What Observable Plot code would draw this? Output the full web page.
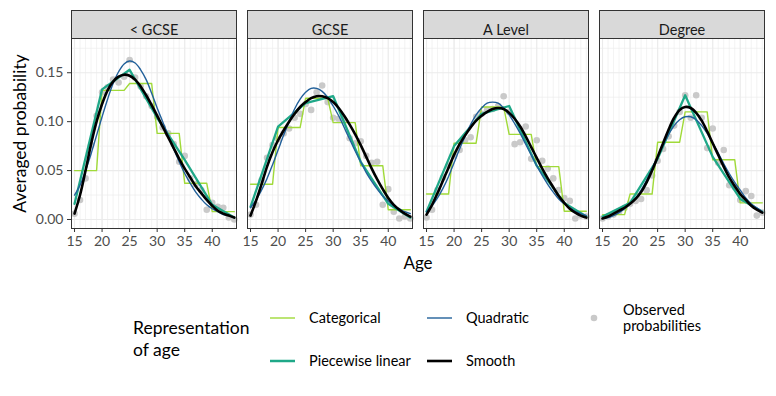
<!DOCTYPE html>
<html><head><meta charset="utf-8">
<script src="https://cdn.jsdelivr.net/npm/d3@7"></script>
<script src="https://cdn.jsdelivr.net/npm/@observablehq/plot@0.6"></script>
<style>
body{margin:0;background:#fff;font-family:Lato,sans-serif;}
#wrap{position:relative;width:776px;height:396px;overflow:hidden;background:#fff}
#legend{position:absolute;left:0;top:0}
</style></head><body><div id="wrap"><div id="chart"></div><svg id="legend" width="776" height="396"></svg></div>
<script>
// ---- data ----
const edus = ["< GCSE", "GCSE", "A Level", "Degree"];
const ages = [15,16,17,18,19,20,21,22,23,24,25,26,27,28,29,30,31,32,33,34,35,36,37,38,39,40,41,42,43,44];

const obsLtGcse = [0.006,0.020,0.042,0.076,0.106,0.130,0.135,0.143,0.140,0.146,0.163,0.145,0.136,0.126,0.116,0.105,0.094,0.088,0.077,0.059,0.065,0.042,0.036,0.030,0.010,0.017,0.013,0.012,0.002,0.000];
const obsGcse   = [0.005,0.015,0.040,0.063,0.076,0.082,0.088,0.093,0.104,0.108,0.118,0.112,0.130,0.137,0.120,0.104,0.103,0.102,0.083,0.078,0.080,0.065,0.058,0.059,0.015,0.031,0.008,0.001,0.003,0.001];
const obsALevel = [0.002,0.010,0.030,0.043,0.055,0.065,0.071,0.081,0.084,0.105,0.108,0.112,0.113,0.116,0.126,0.110,0.077,0.079,0.095,0.062,0.081,0.060,0.052,0.042,0.030,0.022,0.019,0.001,0.004,0.003];
const obsDegree = [0.001,0.003,0.005,0.008,0.012,0.016,0.019,0.021,0.030,0.045,0.060,0.072,0.085,0.096,0.110,0.127,0.104,0.127,0.104,0.073,0.093,0.058,0.071,0.035,0.033,0.020,0.029,0.024,0.004,0.007];

// categorical: age groups
const catStart = [15,20,25,30,35,40];
const catEnd   = [19,24,29,34,39,44];
const catLtGcse = [0.050,0.132,0.139,0.088,0.037,0.008];
const catGcse   = [0.036,0.094,0.124,0.099,0.055,0.010];
const catALevel = [0.026,0.078,0.115,0.087,0.054,0.0085];
const catDegree = [0.005,0.026,0.079,0.110,0.061,0.017];

// piecewise linear: knots
const knots = [15,20,25,30,35,40,44];
const pwLtGcse = [0.016,0.133,0.153,0.104,0.061,0.015,0.002];
const pwGcse   = [0.013,0.095,0.119,0.126,0.059,0.016,0.002];
const pwALevel = [0.008,0.075,0.108,0.116,0.055,0.017,0.003];
const pwDegree = [0.003,0.017,0.062,0.127,0.064,0.021,0.008];

// quadratic
const quadLtGcse = [0.025,0.035,0.050,0.067,0.086,0.105,0.123,0.139,0.151,0.159,0.162,0.160,0.153,0.143,0.129,0.114,0.100,0.086,0.072,0.059,0.047,0.037,0.028,0.021,0.015,0.011,0.008,0.005,0.004,0.002];
const quadGcse   = [0.012,0.020,0.030,0.042,0.056,0.071,0.086,0.100,0.113,0.123,0.130,0.134,0.134,0.131,0.125,0.116,0.106,0.094,0.082,0.070,0.059,0.048,0.039,0.031,0.024,0.019,0.014,0.011,0.008,0.006];
const quadALevel = [0.008,0.014,0.022,0.032,0.044,0.058,0.072,0.085,0.097,0.107,0.114,0.119,0.120,0.119,0.114,0.107,0.098,0.088,0.077,0.066,0.055,0.045,0.036,0.028,0.021,0.016,0.012,0.008,0.006,0.004];
const quadDegree = [0.001,0.002,0.004,0.007,0.011,0.016,0.022,0.030,0.040,0.052,0.064,0.076,0.087,0.096,0.102,0.105,0.105,0.102,0.096,0.088,0.078,0.068,0.057,0.047,0.038,0.030,0.022,0.016,0.012,0.008];

// smooth
const smLtGcse = [0.006,0.025,0.050,0.077,0.100,0.118,0.132,0.141,0.146,0.148,0.147,0.143,0.136,0.127,0.117,0.106,0.095,0.084,0.073,0.062,0.052,0.043,0.034,0.027,0.020,0.014,0.009,0.006,0.004,0.002];
const smGcse   = [0.004,0.019,0.036,0.054,0.069,0.081,0.091,0.100,0.108,0.115,0.120,0.124,0.126,0.126,0.124,0.120,0.114,0.106,0.097,0.087,0.076,0.064,0.052,0.041,0.031,0.022,0.015,0.010,0.006,0.003];
const smALevel = [0.005,0.015,0.027,0.040,0.053,0.066,0.077,0.086,0.094,0.101,0.106,0.110,0.113,0.114,0.113,0.109,0.103,0.095,0.085,0.074,0.063,0.052,0.042,0.033,0.024,0.017,0.011,0.007,0.004,0.002];
const smDegree = [0.001,0.003,0.006,0.009,0.012,0.016,0.021,0.028,0.038,0.050,0.064,0.078,0.092,0.104,0.112,0.115,0.114,0.109,0.101,0.090,0.078,0.066,0.054,0.043,0.034,0.026,0.020,0.014,0.010,0.007];

const xTicks = [15,20,25,30,35,40];
const xMinor = ages;
const yTicks = [0, 0.05, 0.10, 0.15];
const yMinor = [0.025, 0.075, 0.125, 0.175];

const seriesNames = ["Categorical", "Piecewise linear", "Quadratic", "Smooth"];
const colors = {"Categorical": "#a0da39", "Piecewise linear": "#1fa888", "Quadratic": "#21609a", "Smooth": "#000000"};

// ---- tables ----
const obs = [obsLtGcse, obsGcse, obsALevel, obsDegree];
const cat = [catLtGcse, catGcse, catALevel, catDegree];
const pw = [pwLtGcse, pwGcse, pwALevel, pwDegree];
const quad = [quadLtGcse, quadGcse, quadALevel, quadDegree];
const sm = [smLtGcse, smGcse, smALevel, smDegree];

const obsRows = edus.flatMap((e, i) => ages.map((a, j) => ({edu: e, age: a, v: obs[i][j]})));
const catRows = edus.flatMap((e, i) => catStart.flatMap((s, g) => [
  {edu: e, age: s, v: cat[i][g]}, {edu: e, age: catEnd[g], v: cat[i][g]}]));
const pwRows = edus.flatMap((e, i) => knots.map((k, j) => ({edu: e, age: k, v: pw[i][j]})));
const quadRows = edus.flatMap((e, i) => ages.map((a, j) => ({edu: e, age: a, v: quad[i][j]})));
const smRows = edus.flatMap((e, i) => ages.map((a, j) => ({edu: e, age: a, v: sm[i][j]})));

const gridC = "#ebebeb";
const chart = Plot.plot({
  width: 776, height: 282,
  marginTop: 38, marginBottom: 54, marginLeft: 70, marginRight: 11,
  style: {fontFamily: "Lato, sans-serif", background: "#fff", overflow: "visible"},
  fx: {domain: edus, paddingInner: 0.06, paddingOuter: 0, axis: null, label: null},
  x: {domain: [14.45, 44.4]},
  y: {domain: [-0.0092, 0.185]},
  marks: [
    Plot.gridY(yMinor, {stroke: gridC, strokeOpacity: 1, strokeWidth: 0.6}),
    Plot.gridX(xMinor, {stroke: gridC, strokeOpacity: 1, strokeWidth: 0.6}),
    Plot.gridY(yTicks, {stroke: gridC, strokeOpacity: 1, strokeWidth: 1.1}),
    Plot.gridX(xTicks, {stroke: gridC, strokeOpacity: 1, strokeWidth: 1.1}),
    Plot.dot(obsRows, {fx: "edu", x: "age", y: "v", r: 3.3, fill: "#c9c9c9", stroke: null}),
    Plot.line(catRows, {fx: "edu", x: "age", y: "v", stroke: colors["Categorical"], strokeWidth: 1.4}),
    Plot.line(pwRows, {fx: "edu", x: "age", y: "v", stroke: colors["Piecewise linear"], strokeWidth: 2.3}),
    Plot.line(quadRows, {fx: "edu", x: "age", y: "v", curve: "catmull-rom", stroke: colors["Quadratic"], strokeWidth: 1.4}),
    Plot.line(smRows, {fx: "edu", x: "age", y: "v", curve: "catmull-rom", stroke: colors["Smooth"], strokeWidth: 2.6}),
    Plot.frame({stroke: "#333333", strokeWidth: 1}),
    Plot.frame({fill: "#d9d9d9", stroke: "#333333", strokeWidth: 1, insetTop: -28, insetBottom: 190}),
    Plot.text(edus, {fx: d => d, text: d => d, frameAnchor: "top", dy: -14, fontSize: 14.5, fill: "#1a1a1a"}),
    Plot.axisX({ticks: xTicks, tickSize: 4, tickPadding: 4, fontSize: 14, stroke: "#333333", fill: "#4d4d4d", label: null}),
    Plot.axisY({ticks: yTicks, tickFormat: d3.format(".2f"), tickSize: 4, tickPadding: 4, fontSize: 14, stroke: "#333333", fill: "#4d4d4d", label: null}),
    Plot.text(["Averaged probability"], {fx: () => "< GCSE", frameAnchor: "left", textAnchor: "middle", dx: -51, rotate: -90, fontSize: 17.5, fill: "#000"}),
    Plot.text(["Age"], {facet: "super", frameAnchor: "bottom", dy: 40, fontSize: 17, fill: "#000"})
  ]
});
document.getElementById("chart").appendChild(chart);

// ---- legend ----
const lg = d3.select("#legend").style("font-family", "Lato, sans-serif");
lg.append("text").attr("x", 133).attr("y", 328).attr("dy", "0.35em").attr("font-size", 17.5).text("Representation");
lg.append("text").attr("x", 133).attr("y", 350).attr("dy", "0.35em").attr("font-size", 17.5).text("of age");
const keys = [
  {name: "Categorical", x: 270, y: 318, w: 1.4},
  {name: "Piecewise linear", x: 270, y: 361, w: 2.5},
  {name: "Quadratic", x: 427, y: 318, w: 1.4},
  {name: "Smooth", x: 427, y: 361, w: 2.6}
];
keys.forEach(k => {
  lg.append("line").attr("x1", k.x).attr("x2", k.x + 25).attr("y1", k.y).attr("y2", k.y)
    .attr("stroke", colors[k.name]).attr("stroke-width", k.w);
  lg.append("text").attr("x", k.x + 39).attr("y", k.y).attr("dy", "0.35em").attr("font-size", 14.5).text(k.name);
});
lg.append("circle").attr("cx", 594).attr("cy", 318).attr("r", 3.3).attr("fill", "#c9c9c9");
lg.append("text").attr("x", 623).attr("y", 310).attr("dy", "0.35em").attr("font-size", 14.5).text("Observed");
lg.append("text").attr("x", 623).attr("y", 326).attr("dy", "0.35em").attr("font-size", 14.5).text("probabilities");
</script></body></html>
